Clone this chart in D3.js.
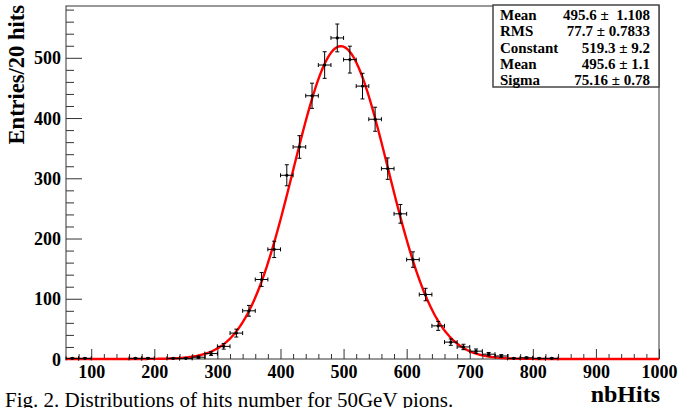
<!DOCTYPE html>
<html><head><meta charset="utf-8">
<script src="https://cdn.jsdelivr.net/npm/d3@7"></script>
<style>
html,body{margin:0;padding:0;background:#fff;}
svg{display:block;font-family:"Liberation Serif","Times New Roman",serif;}
</style></head><body>
<svg id="chart" width="680" height="408"></svg>
<script>
// Non-empty 20-hit bins: centre of each bin and its entry count
const binCenters = [70, 90, 170, 190, 230, 250, 270, 290, 310, 330, 350, 370, 390, 410, 430, 450, 470, 490,
                    510, 530, 550, 570, 590, 610, 630, 650, 670, 690, 710, 730, 750, 770, 790, 810, 830];
const entries    = [1, 1, 1, 1, 1, 1, 3, 9, 21, 43, 80, 132, 182, 305, 352, 437, 488, 533,
                    497, 453, 398, 316, 241, 165, 107, 55, 28, 20, 13, 8, 5, 1, 2, 1, 1];
const binWidth = 20;

// Statistics box rows
const statNames  = ["Mean", "RMS", "Constant", "Mean", "Sigma"];
const statValues = [495.6, 77.7, 519.3, 495.6, 75.16];
const statErrors = ["1.108", "0.7833", "9.2", "1.1", "0.78"];
const statSep    = [" \u00b1  ", " \u00b1 ", " \u00b1 ", " \u00b1 ", " \u00b1 "];

// Gaussian fit parameters (Constant, Mean, Sigma rows of the box)
const fitConstant = statValues[2], fitMean = statValues[3], fitSigma = statValues[4];

// Axis ticks
const xMajorTicks = [100, 200, 300, 400, 500, 600, 700, 800, 900, 1000];
const yMajorTicks = [0, 100, 200, 300, 400, 500];
const xDomain = [60, 1000];
const yDomain = [0, 586];

const frame = {left: 66, right: 659, top: 6, bottom: 359};
const svg = d3.select("#chart");

const x = d3.scaleLinear().domain(xDomain).range([frame.left, frame.right]);
const y = d3.scaleLinear().domain(yDomain).range([frame.bottom, frame.top]);

const axisColor = "#333";

// minor ticks every 20
const xMinor = d3.range(80, 1001, 20).filter(v => v % 100 !== 0);
const yMinor = d3.range(20, 586, 20).filter(v => v % 100 !== 0);

// x axis, ticks pointing into the frame
const gxMinor = svg.append("g").attr("transform", `translate(0,${frame.bottom})`)
  .call(d3.axisBottom(x).tickValues(xMinor).tickSize(-5).tickFormat(""));
const gx = svg.append("g").attr("transform", `translate(0,${frame.bottom})`)
  .call(d3.axisBottom(x).tickValues(xMajorTicks).tickSize(-10).tickPadding(6).tickFormat(d3.format("d")));

// y axis
const gyMinor = svg.append("g").attr("transform", `translate(${frame.left},0)`)
  .call(d3.axisLeft(y).tickValues(yMinor).tickSize(-8).tickFormat(""));
const gy = svg.append("g").attr("transform", `translate(${frame.left},0)`)
  .call(d3.axisLeft(y).tickValues(yMajorTicks).tickSize(-16).tickPadding(5).tickFormat(d3.format("d")));

[gxMinor, gx, gyMinor, gy].forEach(g => {
  g.select(".domain").remove();
  g.selectAll(".tick line").attr("stroke", axisColor).attr("stroke-width", 1);
  g.selectAll(".tick text").attr("fill", "#000").attr("font-size", 18).attr("font-weight", "bold")
    .attr("font-family", '"Liberation Serif","Times New Roman",serif');
});
gx.selectAll(".tick text").attr("dy", "0.72em");
gy.selectAll(".tick text").attr("dy", "0.34em");

// frame
svg.append("rect")
  .attr("x", frame.left).attr("y", frame.top)
  .attr("width", frame.right - frame.left).attr("height", frame.bottom - frame.top)
  .attr("fill", "none").attr("stroke", axisColor).attr("stroke-width", 1);

// fitted gaussian
const gauss = v => fitConstant * Math.exp(-0.5 * Math.pow((v - fitMean) / fitSigma, 2));
const curveX = d3.range(xDomain[0], xDomain[1] + 0.5, 2);
svg.append("path")
  .datum(curveX)
  .attr("fill", "none").attr("stroke", "#ff0000").attr("stroke-width", 2.4)
  .attr("stroke-linejoin", "round")
  .attr("d", d3.line().x(v => x(v)).y(v => y(gauss(v))));

// data points with error bars
const pts = binCenters.map((c, i) => ({c, n: entries[i], e: Math.sqrt(entries[i])}));
const gp = svg.append("g").attr("stroke", "#000").attr("stroke-width", 1).attr("fill", "none");
const cap = 2;
pts.forEach(p => {
  const cx = x(p.c), cy = y(p.n);
  const x0 = x(p.c - binWidth / 2), x1 = x(p.c + binWidth / 2);
  const y0 = y(p.n - p.e), y1 = y(p.n + p.e);
  gp.append("line").attr("x1", x0).attr("x2", x1).attr("y1", cy).attr("y2", cy);
  gp.append("line").attr("x1", cx).attr("x2", cx).attr("y1", Math.min(y0, frame.bottom)).attr("y2", y1);
  gp.append("line").attr("x1", x0).attr("x2", x0).attr("y1", cy - cap).attr("y2", cy + cap);
  gp.append("line").attr("x1", x1).attr("x2", x1).attr("y1", cy - cap).attr("y2", cy + cap);
  gp.append("line").attr("x1", cx - cap).attr("x2", cx + cap).attr("y1", y1).attr("y2", y1);
  if (y0 < frame.bottom)
    gp.append("line").attr("x1", cx - cap).attr("x2", cx + cap).attr("y1", y0).attr("y2", y0);
  svg.append("circle").attr("cx", cx).attr("cy", cy).attr("r", 1.6).attr("fill", "#000");
});

// statistics box
const box = {left: 493, right: 659, top: 5, bottom: 87};
svg.append("rect")
  .attr("x", box.left).attr("y", box.top)
  .attr("width", box.right - box.left).attr("height", box.bottom - box.top)
  .attr("fill", "#fff").attr("stroke", "#444").attr("stroke-width", 1.5);
statNames.forEach((name, i) => {
  const yy = 20 + i * 16.3;
  svg.append("text").attr("x", 500).attr("y", yy)
    .attr("font-size", 15).attr("font-weight", "bold").text(name);
  svg.append("text").attr("x", 650).attr("y", yy)
    .attr("text-anchor", "end").attr("font-size", 15).attr("font-weight", "bold")
    .style("white-space", "pre")
    .text(statValues[i] + statSep[i] + statErrors[i]);
});

// axis titles
svg.append("text")
  .attr("transform", `translate(24,5) rotate(-90)`)
  .attr("text-anchor", "end").attr("font-size", 22.5).attr("font-weight", "bold")
  .text("Entries/20 hits");
svg.append("text").attr("x", 660).attr("y", 402)
  .attr("text-anchor", "end").attr("font-size", 24).attr("font-weight", "bold")
  .text("nbHits");

// caption
svg.append("text").attr("x", 5).attr("y", 407)
  .attr("font-size", 21)
  .text("Fig. 2. Distributions of hits number for 50GeV pions.");
</script>
</body></html>
